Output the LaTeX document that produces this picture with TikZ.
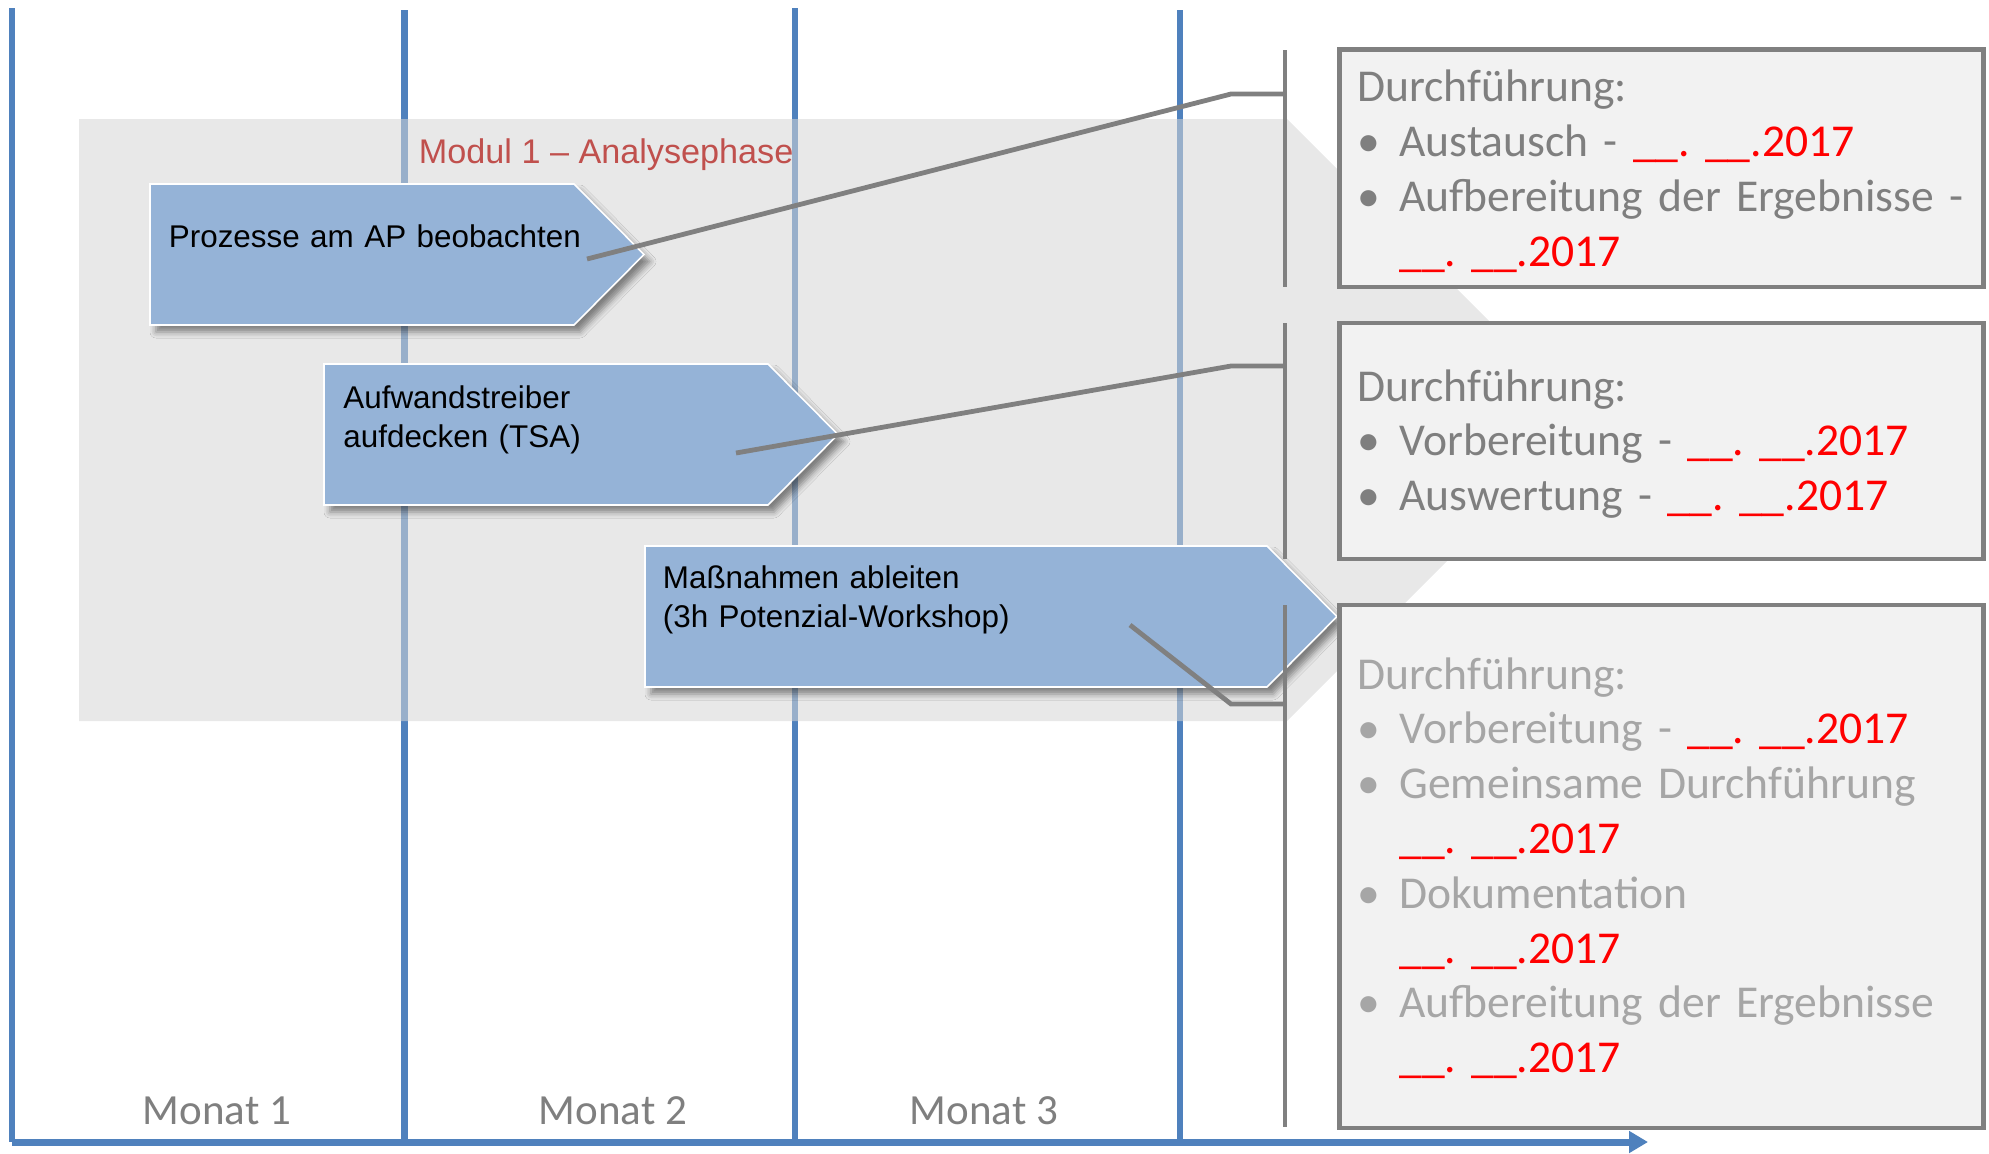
\documentclass[tikz,border=0pt]{standalone}
\usepackage{fontspec}
\newfontfamily\arialfont{Liberation Sans}
\newfontfamily\calfont{Carlito}
\usetikzlibrary{arrows.meta,calc,shadows.blur}
\definecolor{zeitblau}{HTML}{4F81BD}
\definecolor{pfeilblau}{HTML}{95B3D7}
\definecolor{rahmengrau}{HTML}{808080}
\definecolor{kastengrau}{HTML}{F2F2F2}
\definecolor{textgrau}{HTML}{7F7F7F}
\definecolor{hellgrau}{HTML}{A6A6A6}
\definecolor{modulrot}{HTML}{C0504D}
\definecolor{bandgrau}{RGB}{213,213,213}
\newcommand{\strich}{\char"5F\char"5F}
\newcommand{\datum}{\textcolor{red}{\strich.\ \strich.2017}}
\newcommand{\pkt}{\makebox[21pt][l]{\textbullet}}
\newcommand{\ein}{\hspace*{21pt}}
\newcommand{\engsatz}{\spaceskip=0.15em\relax\xspaceskip=0.15em\relax}
\tikzset{
  zeitlinie/.style={draw=zeitblau,line width=3.2pt},
  zeitachse/.style={draw=zeitblau,line width=3.5pt,-{Triangle[length=9.5pt,width=10.5pt]}},
  band/.style={fill=bandgrau,fill opacity=.55},
  chevron/.style={fill=pfeilblau,draw=white,line width=.8pt,
    blur shadow={shadow xshift=3pt,shadow yshift=-3.5pt,shadow blur radius=3pt,shadow opacity=45}},
  prozess/.style={font=\arialfont\fontsize{15.7}{19.5}\selectfont,align=left,text width=250pt,anchor=base west,inner sep=0pt},
  modul/.style={font=\arialfont\fontsize{17.1}{20}\selectfont,text=modulrot,anchor=base west,inner sep=0pt},
  verbinder/.style={draw=rahmengrau,line width=2.4pt},
  infobox/.style={draw=rahmengrau,fill=kastengrau,line width=2.4pt,minimum width=322pt},
  infotext/.style={font={\calfont\fontsize{22.8}{27.4}\selectfont\engsatz},
    text=textgrau,align=left,text width=320pt,anchor=base west,inner sep=0pt},
  monat/.style={font=\calfont\fontsize{21.5}{26}\selectfont,text=textgrau,anchor=base}
}
\begin{document}
\begin{tikzpicture}[x=0.5pt,y=-0.5pt]
  \useasboundingbox (0,0) rectangle (1989,1153);
  % Zeitachse
  \foreach \lx/\ly in {12/8,404.5/10,795/8,1180/10}
    \draw[zeitlinie] (\lx,\ly) -- (\lx,1142);
  \draw[zeitachse] (12,1142) -- (1648,1142);
  \foreach \mx/\mn in {217/1,613/2,984/3}
    \node[monat] (monat\mn) at (\mx,1124) {Monat \mn};
  % Modul 1
  \fill[band] (79,119) -- (1287,119) -- (1588,420) -- (1287,721) -- (79,721) -- cycle;
  \node[modul] (modul) at (418.5,163) {Modul 1 \textendash{} Analysephase};
  \foreach \cx/\cy/\cw in {150/184/424,324/364/444,645/546/622}
    \draw[chevron] (\cx,\cy) -- ++(\cw,0) -- ++(70,70.5) -- ++(-70,70.5) -- ++(-\cw,0) -- cycle;
  \node[prozess] (procA) at (168.5,247) {Prozesse am AP beobachten};
  \node[prozess] (procB) at (343,408) {Aufwandstreiber\\aufdecken (TSA)};
  \node[prozess] (procC) at (662.5,588) {Maßnahmen ableiten\\(3h Potenzial-Workshop)};
  % Verbinder
  \coordinate (vA) at (587,259);
  \coordinate (vB) at (736,453);
  \coordinate (vC) at (1130,625);
  \coordinate (kA) at (1231,94);
  \coordinate (kB) at (1231,366);
  \coordinate (kC) at (1231,704);
  \draw[verbinder] (vA) -- (kA) -- (1285,94);
  \draw[verbinder] (vB) -- (kB) -- (1285,366);
  \draw[verbinder] (vC) -- (kC) -- (1285,704);
  \draw[verbinder] (1285,50) -- (1285,287);
  \draw[verbinder] (1285,323) -- (1285,559);
  \draw[verbinder] (1285,605) -- (1285,1127);
  % Termine
  \node[infobox,minimum height=118.75pt] (boxA) at (1661.5,168.25) {};
  \node[infobox,minimum height=118pt] (boxB) at (1661.5,441) {};
  \node[infobox,minimum height=261.5pt] (boxC) at (1661.5,866.5) {};
  \node[infotext] (txtA) at (1357,101.7) {Durchführung:\\
    \pkt Austausch - \datum\\
    \pkt Aufbereitung der Ergebnisse -\\
    \ein\datum};
  \node[infotext] (txtB) at (1357,401) {Durchführung:\\
    \pkt Vorbereitung - \datum\\
    \pkt Auswertung - \datum};
  \node[infotext,text=hellgrau] (txtC) at (1357,689) {Durchführung:\\
    \pkt Vorbereitung - \datum\\
    \pkt Gemeinsame Durchführung\\
    \ein\datum\\
    \pkt Dokumentation\\
    \ein\datum\\
    \pkt Aufbereitung der Ergebnisse\\
    \ein\datum};
\end{tikzpicture}
\end{document}
